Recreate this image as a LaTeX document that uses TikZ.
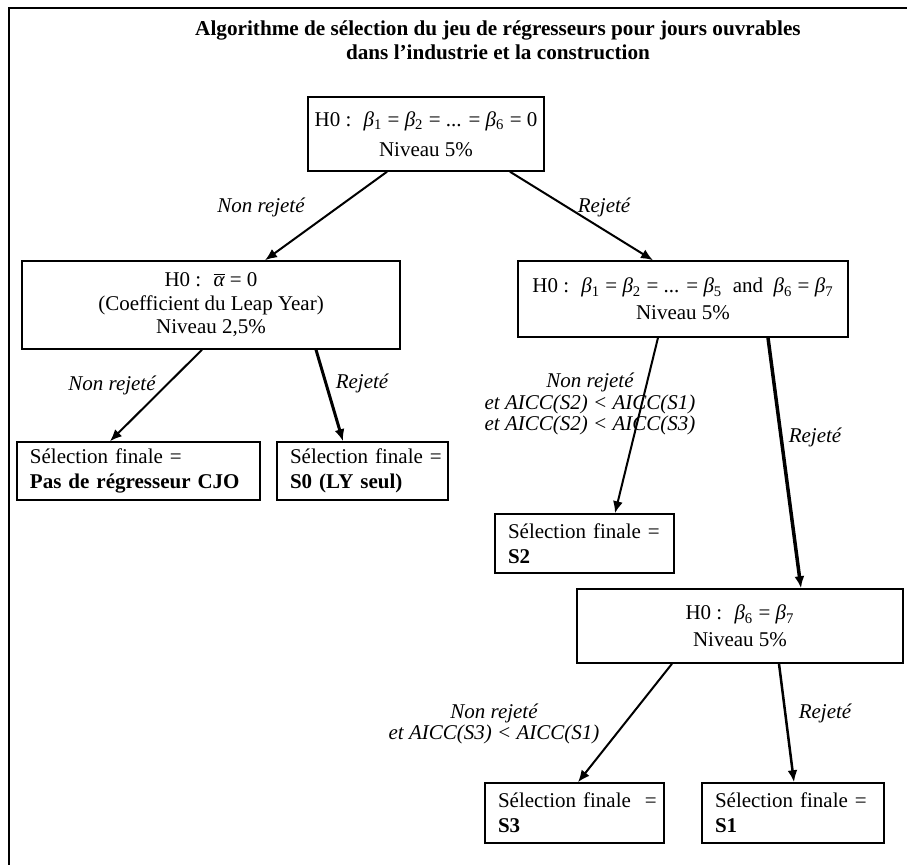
\documentclass[tikz,border=0pt]{standalone}
\usepackage{fontspec}
\setmainfont{Liberation Serif}
\usetikzlibrary{arrows, arrows.meta, calc}
\newcommand{\bt}[1]{\textit{β}\textsubscript{#1}}

\begin{document}
\begin{tikzpicture}[x=0.5pt, y=-0.5pt, >={Latex[length=6pt, width=5pt]}, font=\fontsize{10.5}{12.5}\selectfont]
			\tikzset{%
				testnode/.style={rectangle, draw=black, line width=0.75pt, align=center, inner sep=0pt},
				finalnode/.style={rectangle, draw=black, line width=0.75pt, align=left, inner xsep=6.5pt, inner ysep=0pt},
				choice/.style={font=\fontsize{10.5}{10.8}\selectfont\itshape, align=center},
				nonrej/.style={->, line width=1pt},
				rej/.style={->, line width=1.5pt}
			}
			\useasboundingbox (0,0) rectangle (907,865);
			\draw[line width=0.75pt] (907,8) -- (9,8) -- (9,865);
			\node[font=\fontsize{10.6}{11.8}\selectfont\bfseries, align=center](title) at (498,40){Algorithme de sélection du jeu de régresseurs pour jours ouvrables\\dans l’industrie et la construction};
			% tests
			\node[testnode, minimum width=118pt, minimum height=37pt, font=\fontsize{10.5}{15}\selectfont](hall) at (426,134){H0 : \ \bt1 = \bt2 = ... = \bt6 = 0\\Niveau 5\%};
			\node[testnode, minimum width=189pt, minimum height=44pt, font=\fontsize{10.5}{11.8}\selectfont](hly) at (211,305){H0 : \ $\overline{\hbox{\itshape α}}$ = 0\\(Coefficient du Leap Year)\\Niveau 2,5\%};
			\node[testnode, minimum width=165pt, minimum height=38pt, font=\fontsize{10.5}{13.5}\selectfont](hweek) at (683,299){H0 : \ \bt1 = \bt2 = ... = \bt5 \ and \ \bt6 = \bt7\\Niveau 5\%};
			\node[testnode, minimum width=163pt, minimum height=37pt, font=\fontsize{10.5}{13.5}\selectfont](hsun) at (740,626){H0 : \ \bt6 = \bt7\\Niveau 5\%};
			% selections finales
			\node[finalnode, text width=108.5pt, minimum height=29pt](fcjo) at (138.5,471){\mbox{Sélection finale =}\\\mbox{\textbf{Pas de régresseur CJO}}};
			\node[finalnode, text width=72.5pt, minimum height=29pt](fszero) at (362.5,471){\mbox{Sélection finale =}\\\mbox{\textbf{S0 (LY seul)}}};
			\node[finalnode, text width=76.5pt, minimum height=29.5pt](fstwo) at (584.5,543.5){\mbox{Sélection finale =}\\\textbf{S2}};
			\node[finalnode, text width=76.5pt, minimum height=30pt](fsthree) at (574.5,813){\mbox{Sélection finale \ =}\\\textbf{S3}};
			\node[finalnode, text width=78pt, minimum height=30pt](fsone) at (793,813){\mbox{Sélection finale =}\\\textbf{S1}};
			% branches
			\draw[nonrej] ($(hall.south)+(-39,0)$) -- ($(hly.north)+(54,0)$);
			\draw[nonrej] ($(hall.south)+(84,0)$) -- ($(hweek.north)+(-30,0)$);
			\draw[nonrej] ($(hly.south)+(-9,0)$) -- ($(fcjo.north)+(-28.5,0)$);
			\draw[rej] ($(hly.south)+(105,0)$) -- ($(fszero.north)+(-19.5,0)$);
			\draw[nonrej] ($(hweek.south)+(-25,0)$) -- ($(fstwo.north)+(30.5,0)$);
			\draw[rej, line width=1.75pt] ($(hweek.south)+(85,0)$) -- ($(hsun.north)+(61,0)$);
			\draw[nonrej] ($(hsun.south)+(-68,0)$) -- ($(fsthree.north)+(3.5,0)$);
			\draw[rej, line width=1.25pt] ($(hsun.south)+(39,0)$) -- ($(fsone.north)+(1,0)$);
			% labels
			\node[choice](lnr1) at (261,207){Non rejeté};
			\node[choice](lr1) at (604,207){Rejeté};
			\node[choice](lnr2) at (112,385){Non rejeté};
			\node[choice](lr2) at (362,383){Rejeté};
			\node[choice](lnr3) at (590,404){Non rejeté\\et AICC(S2) < AICC(S1)\\et AICC(S2) < AICC(S3)};
			\node[choice](lr3) at (815,437){Rejeté};
			\node[choice](lnr4) at (494,724){Non rejeté\\et AICC(S3) < AICC(S1)};
			\node[choice](lr4) at (825,713){Rejeté};
		\end{tikzpicture}
\end{document}
